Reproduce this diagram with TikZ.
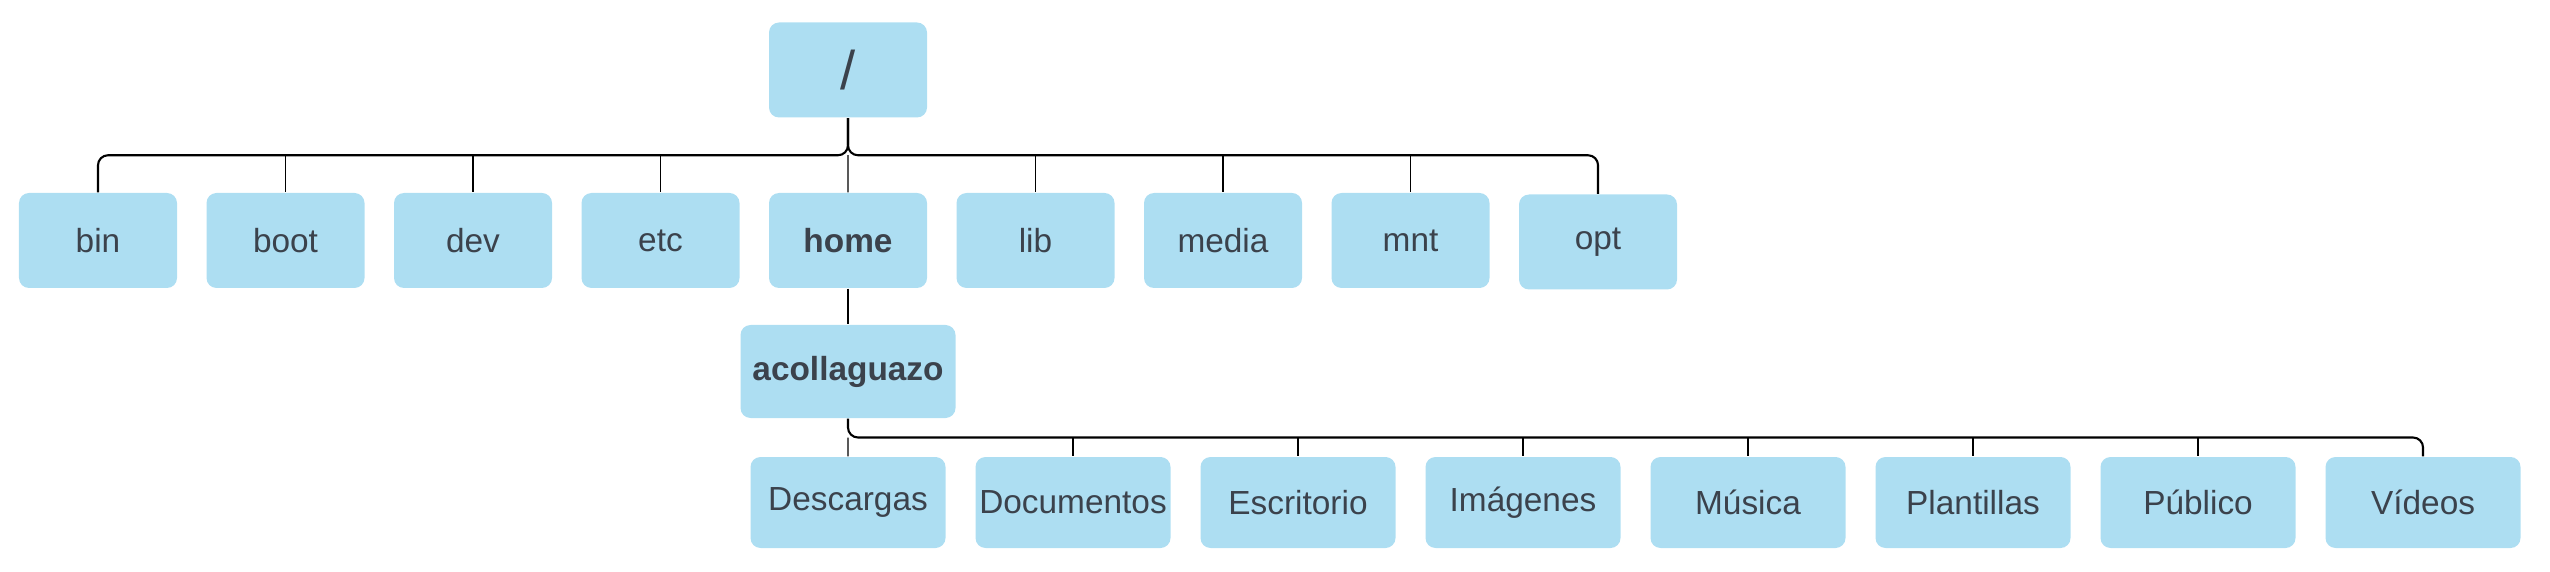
\documentclass[tikz,border=0pt]{standalone}
\usepackage{fontspec}
\setmainfont{Liberation Sans}
\usetikzlibrary{calc}
\definecolor{boxblue}{RGB}{173,222,242}
\definecolor{boxtext}{RGB}{59,66,76}
\tikzset{
	folder/.style={rectangle, rounded corners=0.1cm, fill=boxblue, text=boxtext, inner sep=0pt, minimum width=1.58cm, minimum height=0.95cm, font=\fontsize{9.5}{11}\selectfont},
	subfolder/.style={folder, minimum width=1.95cm, minimum height=0.91cm},
	bus/.style={line width=0.6pt, rounded corners=0.1cm},
	branch/.style={line width=0.35pt}
}
\begin{document}
\begin{tikzpicture}
	\useasboundingbox (0,0) rectangle (25.5,-5.72);
	% root
	\node [folder, font=\fontsize{15.5}{18}\selectfont] (root) at (8.48,-0.70) {/};
	% first level
	\node [folder] (bin) at (0.98,-2.405) {bin};
	\node [folder] (boot) at (2.855,-2.405) {boot};
	\node [folder] (dev) at (4.73,-2.405) {dev};
	\node [folder] (etc) at (6.605,-2.405) {etc};
	\node [folder, font=\fontsize{9.5}{11}\selectfont\bfseries] (home) at (8.48,-2.405) {home};
	\node [folder] (lib) at (10.355,-2.405) {lib};
	\node [folder] (media) at (12.23,-2.405) {media};
	\node [folder] (mnt) at (14.105,-2.405) {mnt};
	\node [folder] (opt) at (15.98,-2.42) {opt};
	% user
	\node [folder, font=\fontsize{9.5}{11}\selectfont\bfseries, minimum width=2.15cm, minimum height=0.93cm] (user) at (8.48,-3.715) {acollaguazo};
	% user folders
	\node [subfolder] (descargas) at (8.48,-5.025) {Descargas};
	\node [subfolder] (documentos) at (10.73,-5.025) {Documentos};
	\node [subfolder] (escritorio) at (12.98,-5.025) {Escritorio};
	\node [subfolder] (imagenes) at (15.23,-5.025) {Imágenes};
	\node [subfolder] (musica) at (17.48,-5.025) {Música};
	\node [subfolder] (plantillas) at (19.73,-5.025) {Plantillas};
	\node [subfolder] (publico) at (21.98,-5.025) {Público};
	\node [subfolder] (videos) at (24.23,-5.025) {Vídeos};
	
	% connectors from root
	\coordinate (top bus) at ($(root.south)!0.5!(home.north)$);
	\draw [bus] (root.south) |- (top bus -| bin.north) -- (bin.north);
	\draw [bus] (root.south) |- (top bus -| opt.north) -- (opt.north);
	\draw [branch] (top bus -| boot.north) -- (boot.north);
	\draw [branch] (top bus -| dev.north) -- (dev.north);
	\draw [branch] (top bus -| etc.north) -- (etc.north);
	\draw [branch] (top bus) -- (home.north);
	\draw [branch] (top bus -| lib.north) -- (lib.north);
	\draw [branch] (top bus -| media.north) -- (media.north);
	\draw [branch] (top bus -| mnt.north) -- (mnt.north);
	
	\draw [branch] (home) -- (user);
	
	% connectors from user
	\coordinate (low bus) at ($(user.south)!0.5!(descargas.north)$);
	\draw [bus] (user.south) |- (low bus -| videos.north) -- (videos.north);
	\draw [branch] (low bus) -- (descargas.north);
	\draw [branch] (low bus -| documentos.north) -- (documentos.north);
	\draw [branch] (low bus -| escritorio.north) -- (escritorio.north);
	\draw [branch] (low bus -| imagenes.north) -- (imagenes.north);
	\draw [branch] (low bus -| musica.north) -- (musica.north);
	\draw [branch] (low bus -| plantillas.north) -- (plantillas.north);
	\draw [branch] (low bus -| publico.north) -- (publico.north);
	
\end{tikzpicture}
\end{document}
